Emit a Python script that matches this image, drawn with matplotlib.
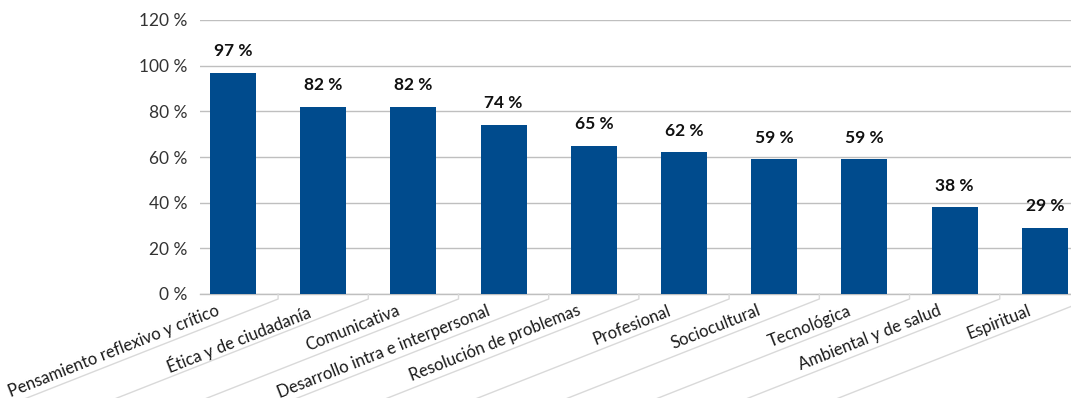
import matplotlib
matplotlib.use('Agg')
import matplotlib.pyplot as plt
from matplotlib.lines import Line2D
from matplotlib.transforms import ScaledTranslation
import numpy as np

categorias = [
    'Pensamiento reflexivo y crítico',
    'Ética y de ciudadanía',
    'Comunicativa',
    'Desarrollo intra e interpersonal',
    'Resolución de problemas',
    'Profesional',
    'Sociocultural',
    'Tecnológica',
    'Ambiental y de salud',
    'Espiritual',
]
valores = [97, 82, 82, 74, 65, 62, 59, 59, 38, 29]
marcas_y = [0, 20, 40, 60, 80, 100, 120]

AZUL = '#004B8D'
GRIS = '#bfbfbf'
ANGULO = 21.5  # inclinación de etiquetas y separadores

plt.rcParams['font.family'] = ['Lato', 'DejaVu Sans']

W, H = 1071, 398
fig = plt.figure(figsize=(W / 100, H / 100), dpi=100)
ax = fig.add_axes([200 / W, 1 - 294 / H, 1 - 200 / W, (294 - 20) / H])

x = np.arange(len(valores))
barras = ax.bar(x, valores, width=0.51, color=AZUL, zorder=3)

ax.set_ylim(0, 120)
ax.set_xlim(-0.366, 9.29)
ax.set_yticks(marcas_y)
ax.set_yticklabels([f'{v} %' for v in marcas_y], fontsize=12.5, color='#333333')
ax.yaxis.grid(True, color=GRIS, lw=1, zorder=0)
ax.tick_params(axis='y', length=0, pad=9)

for s in ['top', 'right', 'left']:
    ax.spines[s].set_visible(False)
ax.spines['bottom'].set_color(GRIS)
ax.spines['bottom'].set_linewidth(1)

ax.set_xticks(x)
ax.set_xticklabels(categorias, rotation=ANGULO, ha='right', va='top',
                   rotation_mode='anchor', fontsize=12, color='#1a1a1a')
ax.tick_params(axis='x', length=0, pad=4)

# correr las etiquetas a la izquierda del centro de la barra
desplazar = ScaledTranslation(-0.17, -0.03, fig.dpi_scale_trans)
for lab in ax.get_xticklabels():
    lab.set_transform(lab.get_transform() + desplazar)

# etiquetas de valor encima de cada barra
for rect, v in zip(barras, valores):
    ax.annotate(f'{v} %', (rect.get_x() + rect.get_width() / 2, v),
                xytext=(0, 12), textcoords='offset points',
                ha='center', va='baseline', fontsize=12.5, fontweight='bold',
                color='#111111')

# separadores inclinados entre categorías
rad = np.deg2rad(ANGULO)
L = 900
for b in x + 0.5:
    px, py = ax.transData.transform((b, 0))
    xs = np.array([px, px, px - L * np.cos(rad)]) / W
    ys = np.array([py, py - 5, py - 5 - L * np.sin(rad)]) / H
    fig.add_artist(Line2D(xs, ys, transform=fig.transFigure,
                          color='#d9d9d9', lw=1))

fig.savefig('out.png', dpi=100)
